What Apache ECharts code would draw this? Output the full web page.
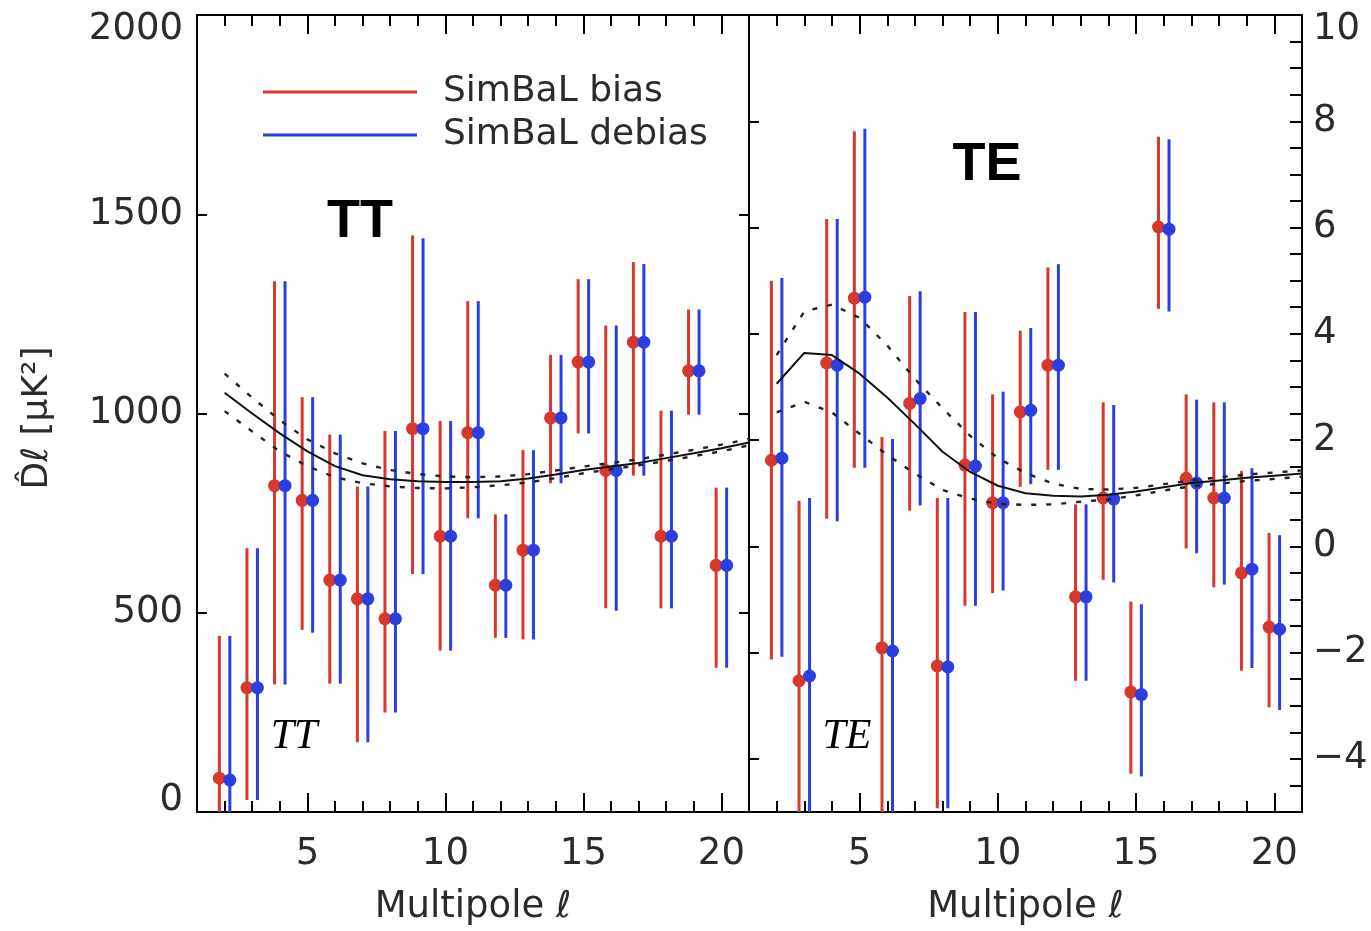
<!DOCTYPE html>
<html>
<head>
<meta charset="utf-8">
<script src="https://cdn.jsdelivr.net/npm/echarts@6/dist/echarts.min.js"></script>
<style>
  html, body { margin: 0; padding: 0; background: #fff; }
  #main { width: 1371px; height: 931px; }
</style>
</head>
<body>
<div id="main"></div>
<script>
// multipoles of the binned points
var ell = [2, 3, 4, 5, 6, 7, 8, 9, 10, 11, 12, 13, 14, 15, 16, 17, 18, 19, 20];

// TT, microK^2
var ttBias      = [85, 312, 819, 782, 582, 535, 485, 962, 692, 952, 569, 657, 989, 1129, 857, 1179, 692, 1107, 619];
var ttBiasLo    = [-60, 30, 320, 457, 322, 175, 250, 597, 405, 737, 437, 433, 825, 950, 511, 844, 511, 997, 362];
var ttBiasHi    = [442, 662, 1332, 1041, 947, 817, 956, 1447, 981, 1282, 747, 908, 1147, 1337, 1221, 1380, 1007, 1261, 814];
var ttDebias    = [80, 312, 819, 782, 582, 535, 485, 962, 692, 952, 569, 657, 989, 1129, 857, 1179, 692, 1107, 619];
var ttDebiasLo  = [-60, 30, 320, 450, 322, 175, 250, 597, 405, 737, 437, 433, 825, 950, 505, 844, 511, 997, 362];
var ttDebiasHi  = [442, 662, 1332, 1041, 947, 817, 956, 1440, 981, 1282, 747, 908, 1147, 1337, 1221, 1375, 1007, 1261, 814];

// TE, microK^2
var teBias      = [1.62, -2.53, 3.45, 4.67, -1.91, 2.69, -2.25, 1.53, 0.82, 2.53, 3.41, -0.95, 0.91, -2.74, 6.01, 1.28, 0.91, -0.50, -1.52];
var teBiasLo    = [-2.13, -5.6, 0.52, 1.48, -5.6, 0.67, -4.93, -1.12, -0.88, 1.12, 1.44, -2.53, -0.63, -4.28, 4.47, -0.04, -0.77, -2.34, -3.03];
var teBiasHi    = [5.00, 0.86, 6.16, 7.81, 2.06, 4.71, 0.91, 4.41, 2.86, 4.06, 5.25, 0.79, 2.71, -1.04, 7.71, 2.86, 2.71, 1.42, 0.25];
var teDebias    = [1.66, -2.44, 3.41, 4.69, -1.97, 2.78, -2.27, 1.51, 0.82, 2.56, 3.41, -0.95, 0.89, -2.79, 5.97, 1.19, 0.91, -0.43, -1.56];
var teDebiasLo  = [-2.08, -5.6, 0.47, 1.48, -5.6, 0.77, -4.93, -1.12, -0.83, 1.17, 1.44, -2.53, -0.68, -4.33, 4.42, -0.13, -0.72, -2.29, -3.08];
var teDebiasHi  = [5.05, 0.91, 6.16, 7.86, 2.02, 4.80, 0.91, 4.41, 2.91, 4.11, 5.31, 0.79, 2.66, -1.09, 7.66, 2.76, 2.71, 1.47, 0.21];

// fiducial model and its band
var modelEll = [2, 3, 4, 5, 6, 7, 8, 9, 10, 11, 12, 13, 14, 15, 16, 17, 18, 19, 20, 21];
var ttModel  = [1052, 1000, 950, 905, 868, 845, 835, 830, 828, 828, 830, 837, 847, 858, 867, 876, 888, 900, 913, 927];
var ttUpper  = [1100, 1040, 983, 935, 900, 875, 858, 848, 842, 840, 842, 848, 857, 867, 876, 885, 897, 909, 922, 936];
var ttLower  = [1006, 955, 905, 868, 840, 825, 817, 813, 812, 815, 820, 827, 838, 850, 860, 870, 881, 893, 905, 920];
var teModel  = [3.06, 3.64, 3.60, 3.25, 2.80, 2.30, 1.78, 1.40, 1.14, 1.00, 0.95, 0.94, 0.97, 1.03, 1.11, 1.19, 1.24, 1.29, 1.33, 1.37];
var teUpper  = [3.60, 4.42, 4.55, 4.30, 3.78, 3.15, 2.60, 2.08, 1.66, 1.38, 1.18, 1.08, 1.07, 1.10, 1.17, 1.24, 1.30, 1.35, 1.39, 1.43];
var teLower  = [2.52, 2.72, 2.52, 2.12, 1.72, 1.37, 1.06, 0.90, 0.80, 0.78, 0.79, 0.84, 0.88, 0.96, 1.05, 1.13, 1.18, 1.23, 1.27, 1.31];

var xMajor = [5, 10, 15, 20];
var teMajor = [-4, -2, 0, 2, 4, 6, 8, 10];

var RED = '#d8382c', BLUE = '#2b3fdf';
var FONT = 'DejaVu Sans';
var TXT = '#2b2b2b';

var chart = echarts.init(document.getElementById('main'));

function pts(xs, ys, dx) {
  return xs.map(function (l, i) { return [l + dx, ys[i]]; });
}

function errSeries(name, color, xi, yi, val, lo, hi, dx, yMin, yMax) {
  var data = ell.map(function (l, i) { return [l + dx, val[i], lo[i], hi[i]]; });
  return {
    name: name, type: 'custom', xAxisIndex: xi, yAxisIndex: yi,
    itemStyle: {color: color},
    encode: {x: 0, y: [1, 2, 3]},
    data: data, z: 3,
    renderItem: function (params, api) {
      var x = api.value(0);
      var lo = Math.max(api.value(2), yMin), hi = Math.min(api.value(3), yMax);
      var p0 = api.coord([x, lo]), p1 = api.coord([x, hi]), pc = api.coord([x, api.value(1)]);
      return {type: 'group', children: [
        {type: 'line', shape: {x1: p0[0], y1: p0[1], x2: p1[0], y2: p1[1]}, style: {stroke: color, lineWidth: 3}},
        {type: 'circle', shape: {cx: pc[0], cy: pc[1], r: 6.5}, style: {fill: color}}
      ]};
    }
  };
}

function lineSeries(xi, yi, ys, dashed) {
  return {
    type: 'line', xAxisIndex: xi, yAxisIndex: yi, data: pts(modelEll, ys, 0),
    showSymbol: false, silent: true, z: 5,
    lineStyle: dashed ? {color: '#222', width: 2.4, type: [5, 10]} : {color: '#111', width: 2}
  };
}

var axLine = {show: true, onZero: false, lineStyle: {color: '#000', width: 2}};
var noLine = {show: false, onZero: false};

function xAxes(g) {
  var base = {type: 'value', gridIndex: g, min: 1, max: 21, splitLine: {show: false}};
  return [
    Object.assign({}, base, {
      position: 'bottom', interval: 1, axisLine: axLine,
      axisTick: {inside: true, length: 11, lineStyle: {color: '#000', width: 2}},
      axisLabel: {
        margin: 24, fontSize: 37, fontFamily: FONT, color: TXT,
        formatter: function (v) { return Math.round(v) % 5 === 0 ? String(Math.round(v)) : ''; }
      },
      name: 'Multipole \u2113', nameLocation: 'middle', nameGap: 77,
      nameTextStyle: {fontSize: 37, fontFamily: FONT, color: TXT}
    }),
    Object.assign({}, base, {
      position: 'bottom', axisLine: noLine, axisLabel: {show: false},
      axisTick: {inside: true, length: 19, customValues: xMajor, lineStyle: {color: '#000', width: 2}}
    }),
    Object.assign({}, base, {
      position: 'top', interval: 1, axisLine: axLine, axisLabel: {show: false},
      axisTick: {inside: true, length: 11, lineStyle: {color: '#000', width: 2}}
    }),
    Object.assign({}, base, {
      position: 'top', axisLine: noLine, axisLabel: {show: false},
      axisTick: {inside: true, length: 19, customValues: xMajor, lineStyle: {color: '#000', width: 2}}
    })
  ];
}

var labStyle = {fontSize: 37, fontFamily: FONT, color: TXT};
var rich = {
  t: {fontSize: 37, fontFamily: FONT, color: TXT, padding: [28, 0, 0, 0]},
  b: {fontSize: 37, fontFamily: FONT, color: TXT, padding: [0, 0, 24, 0]}
};

var yAxes = [
  {
    type: 'value', gridIndex: 0, position: 'left', min: 0, max: 2000, interval: 500,
    splitLine: {show: false}, axisLine: axLine,
    axisTick: {inside: true, length: 10, lineStyle: {color: '#000', width: 2}},
    axisLabel: Object.assign({margin: 14, rich: rich, formatter: function (v) {
      if (v === 2000) return '{t|2000}';
      if (v === 0) return '{b|0}';
      return String(v);
    }}, labStyle)
  },
  {
    type: 'value', gridIndex: 0, position: 'right', min: 0, max: 2000, interval: 500,
    splitLine: {show: false}, axisLine: axLine, axisLabel: {show: false},
    axisTick: {inside: true, length: 10, lineStyle: {color: '#000', width: 2}}
  },
  {
    type: 'value', gridIndex: 1, position: 'left', min: -5, max: 10,
    splitLine: {show: false}, axisLine: axLine, axisLabel: {show: false},
    axisTick: {inside: true, length: 10, customValues: teMajor, lineStyle: {color: '#000', width: 2}}
  },
  {
    type: 'value', gridIndex: 1, position: 'right', min: -5, max: 10, interval: 0.5,
    splitLine: {show: false}, axisLine: axLine,
    axisTick: {inside: true, length: 12, lineStyle: {color: '#000', width: 2}},
    axisLabel: Object.assign({margin: 11, rich: rich, formatter: function (v) {
      var r = Math.round(v * 2) / 2;
      if (r % 2 !== 0) return '';
      if (r === 10) return '{t|10}';
      return r < 0 ? '\u2212' + Math.abs(r) : String(r);
    }}, labStyle)
  }
];

chart.setOption({
  animation: false,
  grid: [
    {left: 197, top: 15, width: 552, height: 800},
    {left: 749, top: 15, width: 553, height: 800}
  ],
  xAxis: xAxes(0).concat(xAxes(1)),
  yAxis: yAxes,
  legend: {
    left: 263, top: 74, orient: 'vertical', icon: 'rect', padding: 0,
    itemWidth: 154, itemHeight: 3, itemGap: 7, selectedMode: false,
    data: ['SimBaL bias', 'SimBaL debias'],
    textStyle: {fontFamily: FONT, fontSize: 36, color: TXT, lineHeight: 36, padding: [0, 0, 0, 21]}
  },
  graphic: [
    {type: 'text', x: 38, y: 418, rotation: Math.PI / 2,
     style: {text: 'D\u0302\u2113 [\u03bcK\u00b2]', fontSize: 36, fontFamily: 'DejaVu Sans', fill: TXT,
             align: 'center', verticalAlign: 'middle'}},
    {type: 'text', x: 360, y: 222, style: {text: 'TT', fontSize: 54, fontWeight: 'bold',
     fontFamily: 'Liberation Sans', fill: '#000', align: 'center', verticalAlign: 'middle'}},
    {type: 'text', x: 987, y: 165, style: {text: 'TE', fontSize: 54, fontWeight: 'bold',
     fontFamily: 'Liberation Sans', fill: '#000', align: 'center', verticalAlign: 'middle'}},
    {type: 'text', x: 294, y: 737, style: {text: 'TT', fontSize: 42, fontStyle: 'italic',
     fontFamily: 'Liberation Serif', fill: '#000', align: 'center', verticalAlign: 'middle'}},
    {type: 'text', x: 847, y: 737, style: {text: 'TE', fontSize: 42, fontStyle: 'italic',
     fontFamily: 'Liberation Serif', fill: '#000', align: 'center', verticalAlign: 'middle'}}
  ],
  series: [
    errSeries('SimBaL bias', RED, 0, 0, ttBias, ttBiasLo, ttBiasHi, -0.19, 0, 2000),
    errSeries('SimBaL debias', BLUE, 0, 0, ttDebias, ttDebiasLo, ttDebiasHi, 0.19, 0, 2000),
    lineSeries(0, 0, ttModel, false),
    lineSeries(0, 0, ttUpper, true),
    lineSeries(0, 0, ttLower, true),
    errSeries('SimBaL bias', RED, 4, 3, teBias, teBiasLo, teBiasHi, -0.19, -5, 10),
    errSeries('SimBaL debias', BLUE, 4, 3, teDebias, teDebiasLo, teDebiasHi, 0.19, -5, 10),
    lineSeries(4, 3, teModel, false),
    lineSeries(4, 3, teUpper, true),
    lineSeries(4, 3, teLower, true)
  ]
});
</script>
</body>
</html>
